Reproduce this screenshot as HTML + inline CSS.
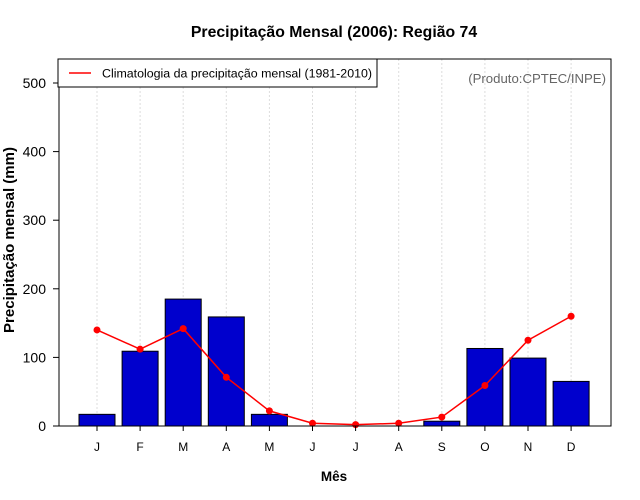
<!DOCTYPE html>
<html><head><meta charset="utf-8"><style>
body{margin:0;background:#fff;}
svg{display:block;font-family:"Liberation Sans",sans-serif;}
</style></head><body>
<svg id="chart" width="640" height="500" viewBox="0 0 640 500">
<rect width="640" height="500" fill="#fff"/>
<text x="334" y="37" text-anchor="middle" font-size="15.8" font-weight="bold">Precipitação Mensal (2006): Região 74</text>
<g id="grid"></g>
<g id="bars"></g>
<g id="line"></g>
<rect x="59" y="59" width="552" height="367" fill="none" stroke="#000" stroke-width="1"/>
<g id="yaxis"></g>
<g id="xaxis"></g>
<text x="334" y="481" text-anchor="middle" font-size="13.5" font-weight="bold">Mês</text>
<text transform="translate(14,240) rotate(-90)" text-anchor="middle" font-size="15" font-weight="bold">Precipitação mensal (mm)</text>
<text x="606" y="83" text-anchor="end" font-size="13.2" fill="#666">(Produto:CPTEC/INPE)</text>
<g>
<rect x="58" y="59" width="319" height="28" fill="#fff" stroke="#000" stroke-width="1"/>
<line x1="69" y1="73" x2="91" y2="73" stroke="red" stroke-width="1.5"/>
<text x="102" y="77.5" font-size="12.4">Climatologia da precipitação mensal (1981-2010)</text>
</g>
</svg>
<script>
const months=["J","F","M","A","M","J","J","A","S","O","N","D"];
const observed=[17,109,185,159,17,0,0,0,7,113,99,65];
const climatology=[140,112,142,71,22,4,2,4,13,59,125,160];
const yTicks=[0,100,200,300,400,500];
const NS="http://www.w3.org/2000/svg";
const X0=97,DX=43.1,Y0=426,SY=343/500;
const x=i=>X0+i*DX, y=v=>Y0-v*SY;
function mk(tag,attrs,parent){const e=document.createElementNS(NS,tag);for(const k in attrs)e.setAttribute(k,attrs[k]);document.getElementById(parent).appendChild(e);return e;}
months.forEach((m,i)=>{
 const g=mk("line",{x1:x(i),x2:x(i),y1:59,y2:426,stroke:"#ddd","stroke-dasharray":"2,2"},"grid");
 
 
 const b=mk("rect",{x:x(i)-18,y:y(observed[i]),width:36,height:observed[i]*SY,fill:"#0000cd",stroke:"#000","stroke-width":1},"bars");
 
 
 const t=mk("line",{x1:x(i),x2:x(i),y1:426,y2:431,stroke:"#000"},"xaxis");
 
 
 const l=mk("text",{x:x(i),y:451,"text-anchor":"middle","font-size":12},"xaxis");
 l.textContent=m;
 
 
});
const p=mk("polyline",{points:climatology.map((v,i)=>x(i)+","+y(v)).join(" "),fill:"none",stroke:"red","stroke-width":1.5},"line");


climatology.forEach((v,i)=>{
 const c=mk("circle",{cx:x(i),cy:y(v),r:3.5,fill:"red"},"line");
 
 
});
const ax=mk("line",{x1:59,x2:59,y1:y(0),y2:y(500),stroke:"#000"},"yaxis");


yTicks.forEach(v=>{
 const t=mk("line",{x1:53,x2:59,y1:y(v),y2:y(v),stroke:"#000"},"yaxis");
 
 
 const l=mk("text",{x:46,y:y(v)+5,"text-anchor":"end","font-size":14},"yaxis");
 l.textContent=v;
 
 
});
</script>
</body></html>
